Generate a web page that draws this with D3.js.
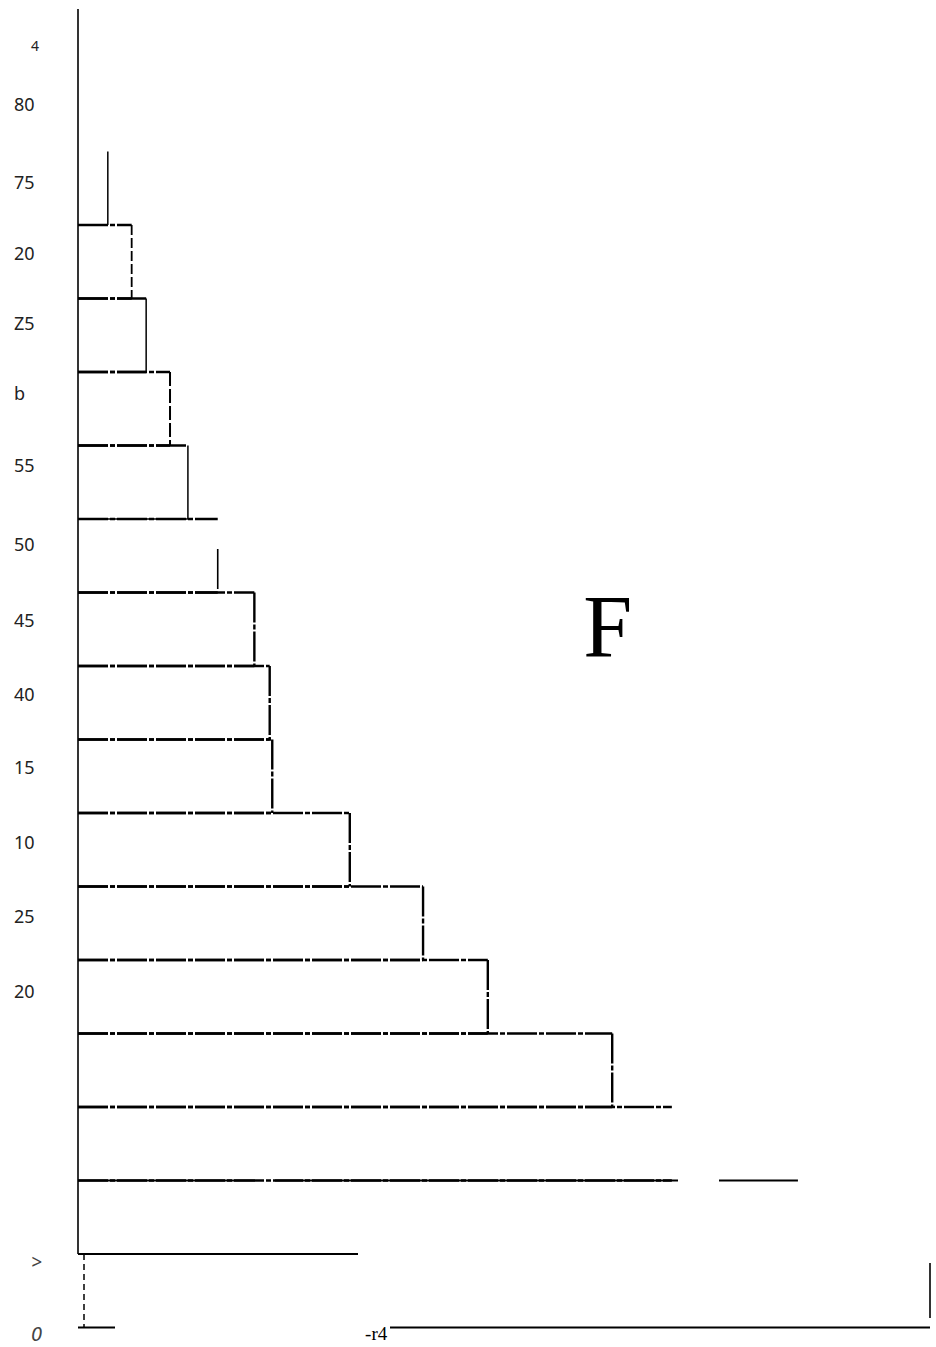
<!DOCTYPE html>
<html><head><meta charset="utf-8">
<script src="https://cdn.jsdelivr.net/npm/d3@7"></script>
<style>html,body{margin:0;padding:0;background:#fff;overflow:hidden;}</style>
</head><body><svg id="c" width="936" height="1347"></svg>
<script>
// ---- data ----
const binStarts = [0, 5, 10, 15, 20, 25, 30, 35, 40, 45, 50, 55, 60, 65, 70, 75];
const binSize = 5;
const counts = [100, 84.5, 69.7, 62.7, 48.1, 40.5, 31.9, 22.8, 22.5, 20.7, 16.4, 12.9, 10.8, 8.0, 6.3, 3.5];
const tickLabels = ["4", "80", "75", "20", "Z5", "b", "55", "50", "45", "40", "15", "10", "25", "20", ">", "0"];
const tickAges = [87.2, 83.2, 77.9, 73.1, 68.3, 63.6, 58.7, 53.3, 48.1, 43.1, 38.1, 33.0, 28.0, 22.9, 4.5, -0.4];
const annotationTexts = ["F", "-r4"];
const annotationX = [59.3, 33.7];
const annotationAge = [45.7, -0.85];

// ---- styles ----
const defaultEdge = { width: 2.4, dash: "30 2 5 2", show: true };
const edgeStyle = {
  75: { top: { show: false }, bottom: { show: false }, right: { width: 1.5, dash: null } },
  70: { right: { width: 1.8, dash: "10 3" } },
  65: { right: { width: 1.5, dash: null } },
  60: { right: { width: 2, dash: "14 3" } },
  55: { right: { width: 1.5, dash: null }, bottom: { width: 1.6, dash: null } },
  50: { right: { width: 1.6, dash: "0 30 40 3" } },
  10: { right: { show: false } },
  5:  { right: { show: false }, top: { dash: "177 20 403 41 79", width: 2 }, bottom: { dash: "0 115 165 2000", width: 1.8 } },
  0:  { top: { dash: "197 2000", width: 1.8 }, right: { dash: "0 9 55 40", width: 1.6 }, bottom: { dash: "37 275 540", width: 2 } }
};
const labelSize = { "4": 14, ">": 19, "0": 20 };

const svg = d3.select("#c");
const x = d3.scaleLinear().domain([0, 100]).range([78, 930]);
const y = d3.scaleLinear().domain([0, 90]).range([1327.5, 4.5]);

const g = svg.append("g");

binStarts.forEach((a, i) => {
  const x0 = x(0), x1 = x(counts[i]);
  const yt = y(a + binSize), yb = y(a);
  const edges = {
    top: [x0, yt, x1, yt],
    right: [x1, yt, x1, yb],
    bottom: [x0, yb, x1, yb]
  };
  const st = edgeStyle[a] || {};
  Object.keys(edges).forEach(k => {
    const s = Object.assign({}, defaultEdge, st[k] || {});
    if (!s.show) return;
    const e = edges[k];
    const ln = g.append("line")
      .attr("x1", e[0]).attr("y1", e[1]).attr("x2", e[2]).attr("y2", e[3])
      .attr("stroke", "#000").attr("stroke-width", s.width);
    if (s.dash) ln.attr("stroke-dasharray", s.dash);
  });
});

// bottom bar left edge (dotted)
g.append("line")
  .attr("x1", x(0) + 6).attr("x2", x(0) + 6)
  .attr("y1", y(binSize)).attr("y2", y(0))
  .attr("stroke", "#000").attr("stroke-width", 1.5).attr("stroke-dasharray", "6 4");

// y axis
const small = l => l in labelSize;
const axis = d3.axisLeft(y).tickValues(tickAges).tickFormat((d, i) => tickLabels[i]).tickSize(0).tickSizeOuter(0);
const ag = svg.append("g").attr("transform", `translate(${x(0)},0)`).call(axis);
ag.select(".domain").remove();
ag.attr("font-size", null).attr("font-family", null);
ag.selectAll(".tick text").each(function (d, i) {
  const l = tickLabels[i];
  const t = d3.select(this);
  t.attr("text-anchor", "start")
    .attr("dy", "0.36em")
    .attr("fill", (l === ">" || l === "0") ? "#444" : "#222")
    .attr("font-family", "'Noto Sans', 'DejaVu Sans', sans-serif")
    .attr("font-size", small(l) ? labelSize[l] : 18)
    .attr("font-style", (l === ">" || l === "0") ? "italic" : "normal")
    .attr("x", 14 - x(0) + (small(l) ? 17 : 0));
});

svg.append("line")
  .attr("x1", x(0)).attr("x2", x(0))
  .attr("y1", y(89.7)).attr("y2", y(binSize))
  .attr("stroke", "#000").attr("stroke-width", 1.6);

// annotations
svg.append("text")
  .attr("x", x(annotationX[0])).attr("y", y(annotationAge[0]))
  .attr("font-family", "'Liberation Serif', serif").attr("font-size", 88)
  .attr("fill", "#000").text(annotationTexts[0]);
svg.append("text")
  .attr("x", x(annotationX[1])).attr("y", y(annotationAge[1]))
  .attr("font-family", "'Liberation Serif', serif").attr("font-size", 19)
  .attr("fill", "#000").text(annotationTexts[1]);
</script>
</body></html>
